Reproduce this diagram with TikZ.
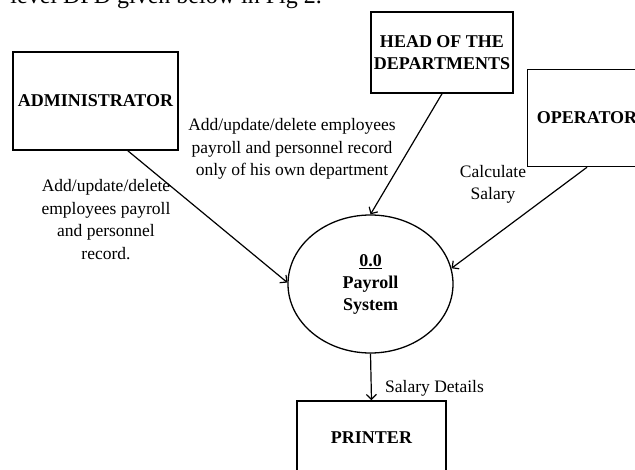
\documentclass[tikz,border=0pt]{standalone}
\usepackage{fontspec}
\setmainfont{Liberation Serif}
\usetikzlibrary{arrows.meta,shapes.geometric}
\begin{document}
\begin{tikzpicture}[x=1pt,y=-1pt,
  ent/.style={draw, line width=1.5pt, inner sep=0pt, align=center,
    font=\fontsize{18}{22}\selectfont\bfseries},
  proc/.style={ellipse, draw, line width=1.3pt, inner sep=0pt, align=center,
    minimum width=165pt, minimum height=138pt,
    font=\fontsize{18}{22}\selectfont\bfseries},
  lbl/.style={align=center, inner sep=0pt, font=\fontsize{17.5}{22.5}\selectfont},
  flow/.style={line width=1.2pt, -{Straight Barb[length=5pt,width=10pt]}}]
\useasboundingbox (0,0) rectangle (635,469);
\clip (0,0) rectangle (635,469);
% clipped line of the surrounding document
\node[anchor=base east, inner sep=0pt, font=\fontsize{24}{28}\selectfont] (top) at (322,3) {level DFD given below in Fig 2.};
% entities
\node[ent, minimum width=165pt, minimum height=98pt] (admin) at (95.5,101) {ADMINISTRATOR};
\node[ent, minimum width=142pt, minimum height=81pt] (head) at (442,52.5) {HEAD OF THE\\DEPARTMENTS};
\node[ent, minimum width=119pt, minimum height=97pt] (op) at (587,118) {OPERATOR};
\node[ent, minimum width=149pt, minimum height=74pt] (pr) at (371.5,438) {PRINTER};
% process
\node[proc] (ps) at (370.5,284) {\underline{0.0}\\Payroll\\System};
% flows
\draw[flow] (admin.-57.3) -- (ps.179);
\draw[flow] (head.south) -- (ps.north);
\draw[flow] (op.south) -- (ps.11);
\draw[flow] (ps.south) -- (pr.north);
% labels
\node[lbl] (l1) at (106,219.5) {Add/update/delete\\employees payroll\\and personnel\\record.};
\node[lbl] (l2) at (292,149) {Add/update/delete employees\\payroll and personnel record\\only of his own department};
\node[lbl] (l3) at (493,184.5) {Calculate\\Salary};
\node[lbl] (l4) at (434.5,388) {Salary Details};
\end{tikzpicture}
\end{document}
